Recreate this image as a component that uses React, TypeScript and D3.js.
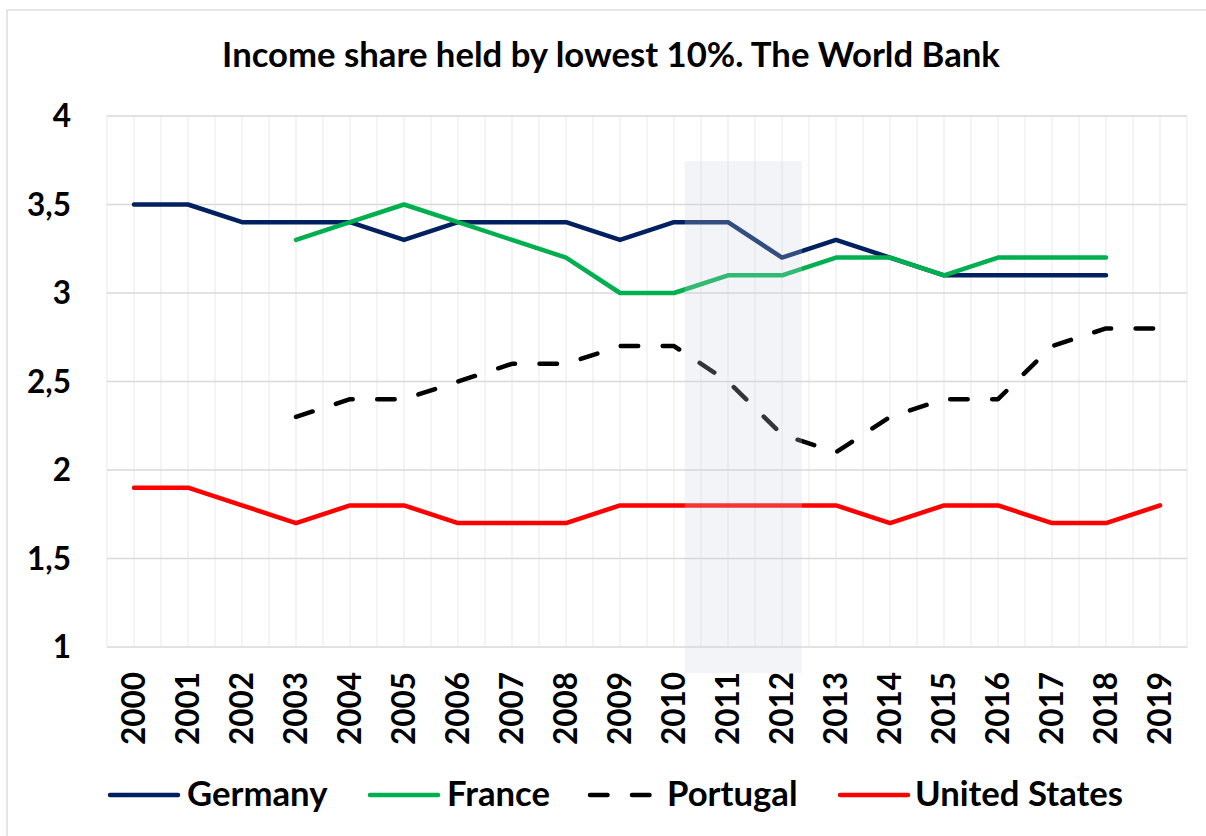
import React from "react";
import * as d3 from "d3";

const years = ["2000","2001","2002","2003","2004","2005","2006","2007","2008","2009","2010","2011","2012","2013","2014","2015","2016","2017","2018","2019"];
const germany = [3.5,3.5,3.4,3.4,3.4,3.3,3.4,3.4,3.4,3.3,3.4,3.4,3.2,3.3,3.2,3.1,3.1,3.1,3.1,null];
const france = [null,null,null,3.3,3.4,3.5,3.4,3.3,3.2,3.0,3.0,3.1,3.1,3.2,3.2,3.1,3.2,3.2,3.2,null];
const portugal = [null,null,null,2.3,2.4,2.4,2.5,2.6,2.6,2.7,2.7,2.5,2.2,2.1,2.3,2.4,2.4,2.7,2.8,2.8];
const unitedStates = [1.9,1.9,1.8,1.7,1.8,1.8,1.7,1.7,1.7,1.8,1.8,1.8,1.8,1.8,1.7,1.8,1.8,1.7,1.7,1.8];
const yTicks = [1, 1.5, 2, 2.5, 3, 3.5, 4];
const shadedYears = ["2011", "2012"];

const series = [
  { name: "Germany", values: germany, color: "#002060", dash: null },
  { name: "France", values: france, color: "#00B050", dash: null },
  { name: "Portugal", values: portugal, color: "#000000", dash: "17.5 24.5" },
  { name: "United States", values: unitedStates, color: "#FF0000", dash: null },
];

const W = 1206, H = 836;
const left = 107, right = 1187, top = 116, bottom = 647;
const FONT = "Lato, 'Open Sans', sans-serif";

export default function App() {
  const x = d3.scaleBand<string>().domain(years).range([left, right]).padding(0);
  const bw = x.bandwidth();
  const cx = (yr: string) => (x(yr) as number) + bw / 2;
  const y = d3.scaleLinear().domain([1, 4]).range([bottom, top]);

  const line = d3
    .line<number | null>()
    .defined((d) => d != null)
    .x((_, i) => cx(years[i]))
    .y((d) => y(d as number));

  const vLines: number[] = [];
  years.forEach((yr) => {
    vLines.push(x(yr) as number);
    vLines.push(cx(yr));
  });
  vLines.push(right);

  const shadeX0 = cx(shadedYears[0]) - bw * 0.8;
  const shadeX1 = cx(shadedYears[shadedYears.length - 1]) + bw * 0.37;

  const legendPos = [
    { lx: 108, tx: 187 },
    { lx: 368, tx: 447 },
    { lx: 588, tx: 667 },
    { lx: 838, tx: 915 },
  ];

  return (
    <svg
      width={W}
      height={H}
      style={{ position: "fixed", left: 0, top: 0, background: "#fff" }}
      fontFamily={FONT}
    >
      <rect x={0} y={0} width={W} height={H} fill="#fff" />
      <rect x={7} y={10} width={W + 20} height={H + 20} fill="none" stroke="#d9d9d9" strokeWidth={1.3} />
      <text x={611} y={67} textAnchor="middle" fontSize={34.7} fontWeight={700} fill="#000">
        Income share held by lowest 10%. The World Bank
      </text>

      {vLines.map((vx, i) => (
        <line key={"v" + i} x1={vx} x2={vx} y1={top} y2={bottom} stroke="#efefef" strokeWidth={1.3} />
      ))}
      {yTicks.map((t) => (
        <line key={"h" + t} x1={left} x2={right} y1={y(t)} y2={y(t)} stroke="#d9d9d9" strokeWidth={1.5} />
      ))}
      {yTicks.map((t) => (
        <text key={"yl" + t} x={71} y={y(t)} dy="0.36em" textAnchor="end" fontSize={31.5} fontWeight={700} fill="#000">
          {String(t).replace(".", ",")}
        </text>
      ))}
      {years.map((yr) => (
        <text
          key={"xl" + yr}
          transform={`translate(${cx(yr)},672) rotate(-90)`}
          dy="0.36em"
          textAnchor="end"
          fontSize={31.5}
          fontWeight={700}
          fill="#000"
        >
          {yr}
        </text>
      ))}

      {series.map((s) => (
        <path
          key={s.name}
          d={line(s.values) || ""}
          fill="none"
          stroke={s.color}
          strokeWidth={4.5}
          strokeLinejoin="round"
          strokeLinecap="round"
          strokeDasharray={s.dash || undefined}
        />
      ))}

      <rect x={shadeX0} y={161} width={shadeX1 - shadeX0} height={673 - 161} fill="rgb(207,212,222)" fillOpacity={0.25} />

      {series.map((s, i) => (
        <g key={"lg" + s.name}>
          <line
            x1={legendPos[i].lx + 2}
            x2={legendPos[i].lx + 70}
            y1={795}
            y2={795}
            stroke={s.color}
            strokeWidth={4.5}
            strokeLinecap="round"
            strokeDasharray={s.dash || undefined}
          />
          <text x={legendPos[i].tx} y={806} fontSize={34.7} fontWeight={700} fill="#000">
            {s.name}
          </text>
        </g>
      ))}
    </svg>
  );
}
